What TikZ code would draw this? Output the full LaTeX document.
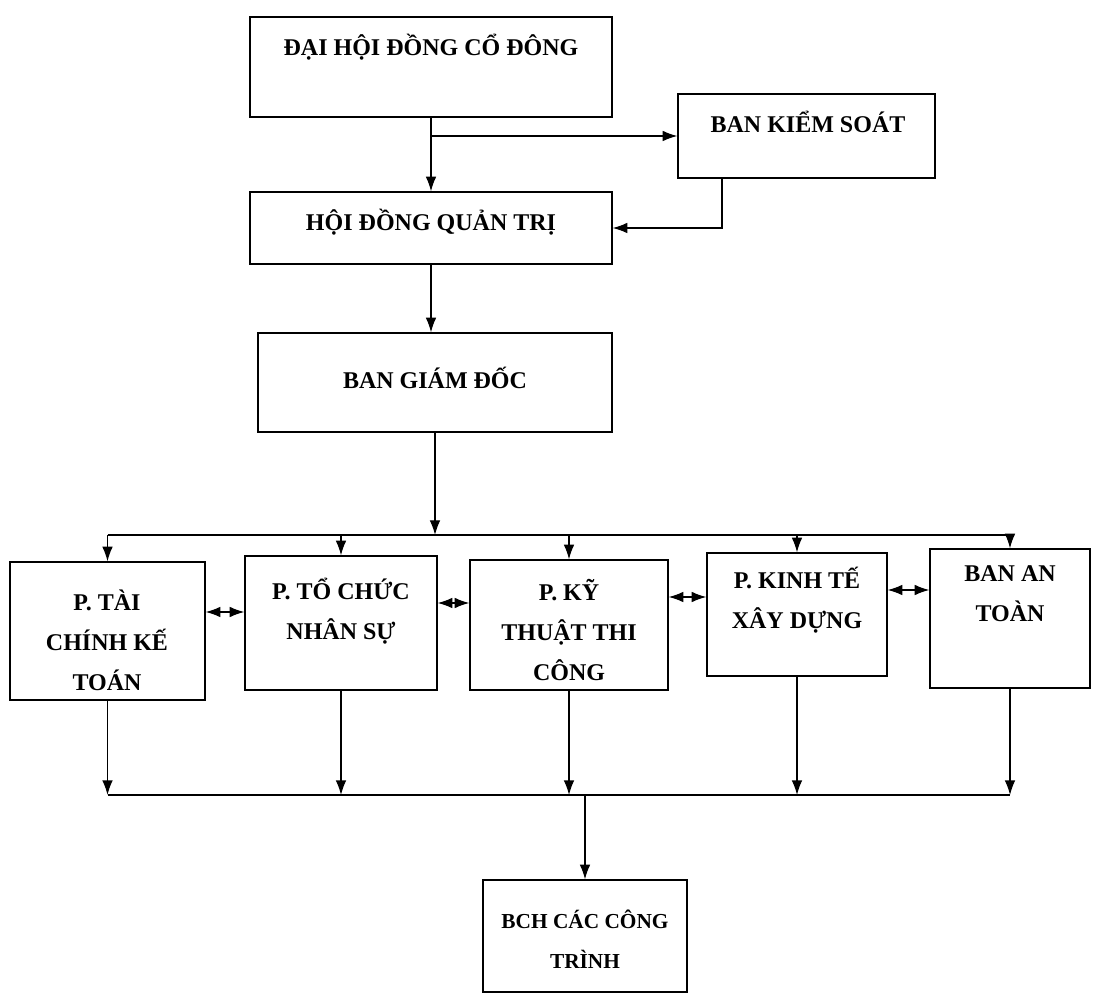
\documentclass[tikz,border=0pt]{standalone}
\usepackage{fontspec}
\setmainfont{Liberation Serif}
\usetikzlibrary{arrows.meta}
\usetikzlibrary{fit}

\begin{document}
\begin{tikzpicture}[x=0.75pt,y=-0.75pt,line width=1pt,
    >={Latex[length=11pt,width=8pt]},
    box/.style={draw,inner sep=0pt},
    lbl/.style={font=\fontsize{18}{30}\selectfont\bfseries,align=center}]
    \useasboundingbox (0,0) rectangle (1093,998);
    % upper boxes
    \node[box,fit={(250,17) (612,117)}] (dhcd) {};
    \node[box,fit={(678,94) (935,178)}] (bks) {};
    \node[box,fit={(250,192) (612,264)}] (hdqt) {};
    \node[box,fit={(258,333) (612,432)}] (bgd) {};
    \node[lbl] (dhcd-t) at (431,47) {ĐẠI HỘI ĐỒNG CỔ ĐÔNG};
    \node[lbl] (bks-t) at (808,122) {BAN KIỂM SOÁT};
    \node[lbl] (hdqt-t) at (431,222) {HỘI ĐỒNG QUẢN TRỊ};
    \node[lbl] (bgd-t) at (435,378) {BAN GIÁM ĐỐC};
    % phong ban
    \node[box,fit={(10,562) (205,700)}] (tc) {};
    \node[box,fit={(245,556) (437,690)}] (tcns) {};
    \node[box,fit={(470,560) (668,690)}] (kt) {};
    \node[box,fit={(707,553) (887,676)}] (kte) {};
    \node[box,fit={(930,549) (1090,688)}] (bat) {};
    \node[lbl] (tc-t) at (107,640) {P. TÀI\\CHÍNH KẾ\\TOÁN};
    \node[lbl] (tcns-t) at (341,611) {P. TỔ CHỨC\\NHÂN SỰ};
    \node[lbl] (kt-t) at (569,630) {P. KỸ\\THUẬT THI\\CÔNG};
    \node[lbl] (kte-t) at (797,600) {P. KINH TẾ\\XÂY DỰNG};
    \node[lbl] (bat-t) at (1010,594) {BAN AN\\TOÀN};
    % ban chi huy
    \node[box,fit={(483,880) (687,992)}] (bch) {};
    \node[lbl,font=\fontsize{16}{30}\selectfont\bfseries] (bch-t) at (585,939) {BCH CÁC CÔNG\\TRÌNH};
    \coordinate (busT) at (bgd.south |- 0,535);
    \coordinate (busB) at (bch.north |- 0,795);
    % connectors
    \draw[->] (dhcd.south) -- (hdqt.north);
    \draw[->] (dhcd.south |- bks.west) -- (bks.west);
    \draw[->] (722,0 |- bks.south) |- (hdqt.east);
    \draw[->] (hdqt.south) -- (hdqt.south |- bgd.north);
    \draw[->] (bgd.south) -- (busT);
    \draw (tc.north |- busT) -- (bat.north |- busT);
    \foreach \n in {tc,tcns,kt,kte,bat}
        \draw[->] (\n.north |- busT) -- (\n.north);
    \foreach \a/\b/\y in {tc/tcns/612,tcns/kt/603,kt/kte/597,kte/bat/590}
        \draw[<->] (\a.east |- 0,\y) -- (\b.west |- 0,\y);
    \foreach \n in {tc,tcns,kt,kte,bat}
        \draw[->] (\n.south) -- (\n.south |- busB);
    \draw (tc.south |- busB) -- (bat.south |- busB);
    \draw[->] (busB) -- (bch.north);
\end{tikzpicture}
\end{document}
